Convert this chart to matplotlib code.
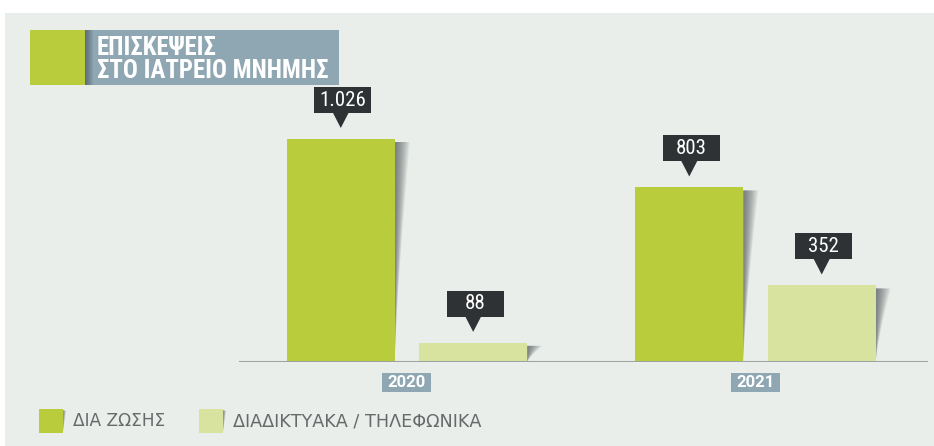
import numpy as np
import matplotlib
matplotlib.use("Agg")
import matplotlib.pyplot as plt
import matplotlib.font_manager as fm
import matplotlib.transforms as mtransforms
from matplotlib.patches import Rectangle, Polygon

# dedomena
etos = ["2020", "2021"]
dia_zosis = [1026, 803]
diadiktyaka = [88, 352]
seires = ["ΔΙΑ ΖΩΣΗΣ", "ΔΙΑΔΙΚΤΥΑΚΑ / ΤΗΛΕΦΩΝΙΚΑ"]
titlos = ["ΕΠΙΣΚΕΨΕΙΣ", "ΣΤΟ ΙΑΤΡΕΙΟ ΜΝΗΜΗΣ"]

PRASINO = "#b9cc3c"
ANOIXTO = "#d8e3a0"
FONTO = "#e9eeeb"
GKRI_MPLE = "#8fa7b3"
SKOURO = "#2e3234"
GRAMMI = "#9fa3a0"
KEIMENO = "#666a6a"

names = {f.name for f in fm.fontManager.ttflist}
NARROW = "Roboto"
for cand in ["Liberation Sans Narrow", "Roboto Condensed", "Open Sans Condensed",
             "Noto Sans Condensed", "DejaVu Sans Condensed"]:
    if cand in names:
        NARROW = cand
        break
SANS = "Roboto" if "Roboto" in names else "DejaVu Sans"

W, H = 934, 446
fig = plt.figure(figsize=(W / 100, H / 100), dpi=100)
fig.patch.set_facecolor("white")
renderer = fig.canvas.get_renderer()


def fit(txt, target_px):
    # prosarmogi megethous grammatoseiras sto platos tou protypou
    bb = txt.get_window_extent(renderer)
    txt.set_fontsize(txt.get_fontsize() * target_px / bb.width)


# fonto kai diakosmitika se pixel
bg = fig.add_axes([0, 0, 1, 1])
bg.set_xlim(0, W)
bg.set_ylim(H, 0)
bg.axis("off")
bg.add_patch(Rectangle((5, 13), W - 5, H - 13, color=FONTO, lw=0))

# titlos
bg.add_patch(Rectangle((30, 30), 55, 55, color=PRASINO, lw=0))
bg.add_patch(Rectangle((85, 30), 254, 55, color=GKRI_MPLE, lw=0))
for k in range(8):
    bg.add_patch(Rectangle((85, 30), 8 - k, 55, color="#333a3e", alpha=0.08, lw=0))
t1 = bg.text(97, 55, titlos[0], color="white", fontsize=17, fontweight="bold",
             family=NARROW, va="baseline", ha="left")
t2 = bg.text(97, 78, titlos[1], color="white", fontsize=17, fontweight="bold",
             family=NARROW, va="baseline", ha="left")
fit(t2, 233)
t1.set_fontsize(t2.get_fontsize())

# ypomnima
for x0, lab, col, wpx in [(39, seires[0], PRASINO, 93), (199, seires[1], ANOIXTO, 249)]:
    bg.add_patch(Rectangle((x0, 409), 24, 24, color=col, lw=0))
    for k in range(4):
        bg.add_patch(Polygon([(x0 + 24, 410), (x0 + 24 + 3 - k * 0.6, 411),
                              (x0 + 24, 431)], closed=True, color="#333a3e",
                             alpha=0.15, lw=0))
    tl = bg.text(x0 + 34, 421.5, lab, color=KEIMENO, fontsize=11.8,
                 family="DejaVu Sans", va="center", ha="left")
    fit(tl, wpx)

# kyrios axonas
ax = fig.add_axes([239 / W, 84 / H, (928 - 239) / W, 349 / H])
ax.patch.set_alpha(0)
ymax = 349 * 1026 / 223
ax.set_ylim(0, ymax)
ax.set_xlim(-0.482, 1.495)
for s in ax.spines.values():
    s.set_visible(False)
ax.set_xticks([])
ax.set_yticks([])
ax.axhline(0, color=GRAMMI, lw=2.2, zorder=3)

x = np.arange(len(etos))
width = 0.31
offset = 0.19
b1 = ax.bar(x - offset, dia_zosis, width, color=PRASINO, zorder=2)
b2 = ax.bar(x + offset, diadiktyaka, width, color=ANOIXTO, zorder=2)

unit_px = ymax / 349  # monades ana pixel


def skia(rect):
    right = rect.get_x() + rect.get_width()
    top = rect.get_height()
    trans = mtransforms.blended_transform_factory(
        fig.dpi_scale_trans + mtransforms.ScaledTranslation(right, 0, ax.transData),
        ax.transData)
    t = np.linspace(0, 1, 30)
    y_top = top - 3 * unit_px
    ys = y_top * (1 - t)
    n = 12
    for i in range(n):
        w = 15 * (i + 1) / n
        xs = w * (1 - t) ** 1.3 / 100
        pts = [(0, y_top)] + list(zip(xs, ys)) + [(0, 0)]
        ax.add_patch(Polygon(pts, closed=True, color="#3a3f42", alpha=0.075,
                             lw=0, transform=trans, zorder=1, clip_on=False))


def etiketa(rect, val):
    xc = rect.get_x() + rect.get_width() / 2
    trans = fig.dpi_scale_trans + mtransforms.ScaledTranslation(xc, val, ax.transData)
    bw, bh = 57, 26
    dx = 2
    box = [(dx - bw / 2, 26), (dx + bw / 2, 26), (dx + bw / 2, 26 + bh), (dx - bw / 2, 26 + bh)]
    ax.add_patch(Polygon([(a / 100, b / 100) for a, b in box], closed=True,
                         color=SKOURO, lw=0, transform=trans, clip_on=False, zorder=4))
    tri = [(-8, 26.5), (8, 26.5), (0, 11)]
    ax.add_patch(Polygon([(a / 100, b / 100) for a, b in tri], closed=True,
                         color=SKOURO, lw=0, transform=trans, clip_on=False, zorder=4))
    lab = f"{val:,}".replace(",", ".")
    ax.text(dx / 100, (26 + bh / 2) / 100, lab, transform=trans, color="white",
            fontsize=15, family=NARROW, ha="center", va="center", zorder=5)


for bars, vals in [(b1, dia_zosis), (b2, diadiktyaka)]:
    for rect, v in zip(bars, vals):
        skia(rect)
        etiketa(rect, v)

# etiketes eton
for i, e in enumerate(etos):
    trans = fig.dpi_scale_trans + mtransforms.ScaledTranslation(i, 0, ax.transData)
    ax.add_patch(Rectangle((-24.5 / 100, -30 / 100), 49 / 100, 19 / 100,
                           color=GKRI_MPLE, lw=0, transform=trans, clip_on=False))
    ty = ax.text(0, -20.5 / 100, e, transform=trans, color="white", fontsize=11.5,
                 fontweight="bold", family=SANS, ha="center", va="center")
    fit(ty, 38)

fig.savefig("out.png", dpi=100, facecolor=fig.get_facecolor())
